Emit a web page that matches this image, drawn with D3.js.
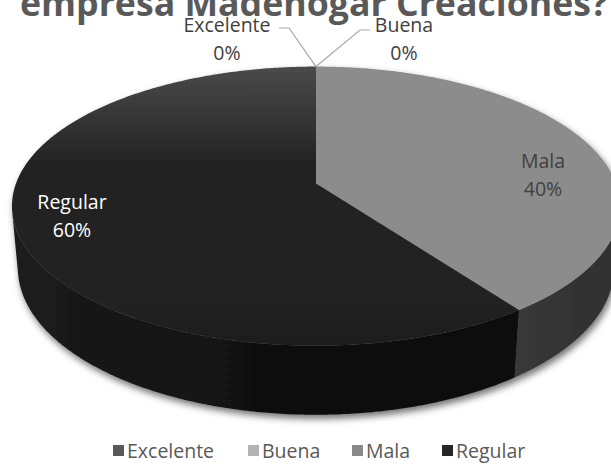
<!DOCTYPE html>
<html>
<head>
<meta charset="utf-8">
<script src="https://cdn.jsdelivr.net/npm/d3@7"></script>
<style>
  html, body { margin: 0; padding: 0; background: #ffffff; }
  svg { display: block; }
  text { font-family: "Open Sans", "Noto Sans", sans-serif; }
</style>
</head>
<body>
<svg id="chart" width="611" height="464"></svg>
<script>
// Survey answers and their shares
const categories = ["Excelente", "Buena", "Mala", "Regular"];
const values = [0, 0, 40, 60];
const percentLabels = ["0%", "0%", "40%", "60%"];
const titleText = "empresa Madehogar Creaciones?";

// Fills per slice: top face, side wall (light / dark ends), legend swatch
const topColors = ["#4d4d4d", "#a6a6a6", "#8c8c8c", "#232323"];
const sideLight = ["#2e2e2e", "#5a5a5a", "#383838", "#1c1c1c"];
const sideDark = ["#222222", "#4a4a4a", "#2f2f2f", "#0b0b0b"];
const legendColors = ["#595959", "#b3b3b3", "#8a8a8a", "#262626"];

const svg = d3.select("#chart");

// Perspective camera for the tilted disc
const cam = { cx: 316, cy: 183.5, f: 1650, d: 5.5, phi: Math.asin(0.453), depth: 0.233 };
const sinP = Math.sin(cam.phi), cosP = Math.cos(cam.phi);
function project(theta, z, r = 1) {
  const X = r * Math.sin(theta);
  const Yf = -r * Math.cos(theta);
  const up = -Yf * sinP + z * cosP;
  const dep = cam.d - Yf * cosP - z * sinP;
  return [cam.cx + cam.f * X / dep, cam.cy - cam.f * up / dep];
}

const pie = d3.pie().sort(null).value(d => d.value).startAngle(0).endAngle(2 * Math.PI);
const data = categories.map((c, i) => ({ name: c, value: values[i], i }));
const arcs = pie(data);

const line = d3.line();
function arcPoints(a0, a1, z) {
  const n = Math.max(2, Math.ceil(Math.abs(a1 - a0) / 0.01));
  return d3.range(n + 1).map(k => project(a0 + (a1 - a0) * k / n, z));
}

const defs = svg.append("defs");
const shadow = defs.append("filter").attr("id", "shadow")
  .attr("x", "-10%").attr("y", "-10%").attr("width", "120%").attr("height", "130%");
shadow.append("feDropShadow").attr("dx", 2).attr("dy", 4)
  .attr("stdDeviation", 3.5).attr("flood-color", "#000").attr("flood-opacity", 0.55);

// Outer wall is visible where cos(theta) < -1 / (d * cos(phi))
const visLimit = Math.acos(-1 / (cam.d * cosP));
const visStart = visLimit, visEnd = 2 * Math.PI - visLimit;

const pieG = svg.append("g").attr("filter", "url(#shadow)");

// Side walls
arcs.forEach(a => {
  const s = Math.max(a.startAngle, visStart), e = Math.min(a.endAngle, visEnd);
  if (e <= s) return;
  const top = arcPoints(s, e, 0);
  const bottom = arcPoints(e, s, -cam.depth);
  const gid = "side" + a.data.i;
  const x0 = project(s, 0)[0], x1 = project(e, 0)[0];
  const g = defs.append("linearGradient").attr("id", gid)
    .attr("gradientUnits", "userSpaceOnUse")
    .attr("x1", x0).attr("y1", 0).attr("x2", x1).attr("y2", 0);
  if (a.data.name === "Regular") {
    g.append("stop").attr("offset", 0).attr("stop-color", sideDark[a.data.i]);
    g.append("stop").attr("offset", 0.6).attr("stop-color", "#121212");
    g.append("stop").attr("offset", 1).attr("stop-color", sideLight[a.data.i]);
  } else {
    g.append("stop").attr("offset", 0).attr("stop-color", sideDark[a.data.i]);
    g.append("stop").attr("offset", 1).attr("stop-color", sideLight[a.data.i]);
  }
  pieG.append("path")
    .attr("d", line(top.concat(bottom)) + "Z")
    .attr("fill", `url(#${gid})`);
});

// Top faces
const topGrad = defs.append("linearGradient").attr("id", "topReg")
  .attr("gradientUnits", "userSpaceOnUse")
  .attr("x1", 0).attr("y1", project(0, 0)[1]).attr("x2", 0).attr("y2", project(Math.PI, 0)[1]);
topGrad.append("stop").attr("offset", 0).attr("stop-color", "#4a4a4a");
topGrad.append("stop").attr("offset", 0.35).attr("stop-color", "#232323");
topGrad.append("stop").attr("offset", 1).attr("stop-color", "#1f1f1f");

arcs.forEach(a => {
  if (a.endAngle - a.startAngle <= 0) return;
  const pts = [project(0, 0, 0)].concat(arcPoints(a.startAngle, a.endAngle, 0));
  pieG.append("path")
    .attr("d", line(pts) + "Z")
    .attr("fill", a.data.name === "Regular" ? "url(#topReg)" : topColors[a.data.i]);
});

// Title (its first line sits above the visible area)
svg.append("text")
  .attr("x", 20).attr("y", 16)
  .attr("font-size", 35).attr("font-weight", 700)
  .attr("fill", "#595959")
  .attr("textLength", 588).attr("lengthAdjust", "spacingAndGlyphs")
  .text(titleText);

// Data labels
const labelPos = {
  Excelente: { x: 227, y: 32, color: "#404040" },
  Buena: { x: 404, y: 32, color: "#404040" },
  Mala: { x: 543, y: 168, color: "#404040" },
  Regular: { x: 72, y: 209, color: "#ffffff" }
};
const apex = project(0, 0);
// Leader lines for the empty slices
svg.append("path")
  .attr("d", line([[279, 28], [289, 28], apex]))
  .attr("fill", "none").attr("stroke", "#a6a6a6").attr("stroke-width", 1.2);
svg.append("path")
  .attr("d", line([apex, [360, 30], [370, 30]]))
  .attr("fill", "none").attr("stroke", "#a6a6a6").attr("stroke-width", 1.2);

arcs.forEach(a => {
  const p = labelPos[a.data.name];
  const t = svg.append("text")
    .attr("text-anchor", "middle").attr("font-size", 19.5).attr("fill", p.color);
  t.append("tspan").attr("x", p.x).attr("y", p.y).text(a.data.name);
  t.append("tspan").attr("x", p.x).attr("y", p.y + 28).text(percentLabels[a.data.i]);
});

// Legend
const legendX = [113, 248, 352, 442];
const legend = svg.append("g");
categories.forEach((c, i) => {
  legend.append("rect")
    .attr("x", legendX[i]).attr("y", 445).attr("width", 11).attr("height", 11)
    .attr("fill", legendColors[i]);
  legend.append("text")
    .attr("x", legendX[i] + 14).attr("y", 458)
    .attr("font-size", 19.5).attr("fill", "#595959")
    .text(c);
});
</script>
</body>
</html>
